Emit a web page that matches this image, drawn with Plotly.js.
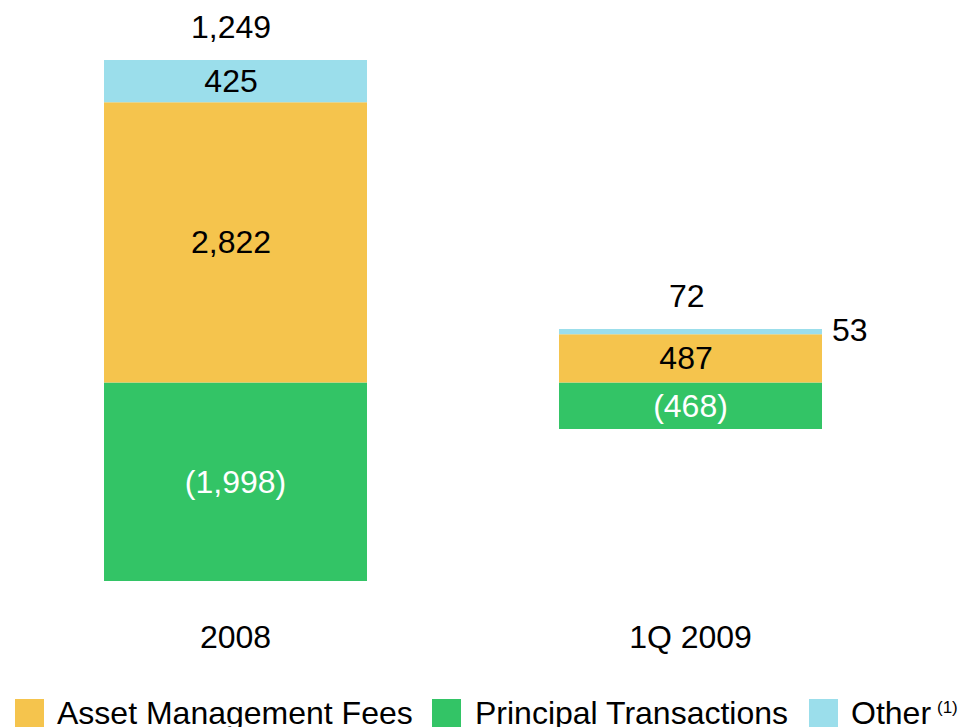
<!DOCTYPE html>
<html>
<head>
<meta charset="utf-8">
<script src="https://cdn.plot.ly/plotly-3.0.1.min.js"></script>
<style>
  html, body { margin: 0; padding: 0; background: #ffffff; }
  #chart { width: 964px; height: 727px; }
</style>
</head>
<body>
<div id="chart"></div>
<script>
// ---- data ----
const categories = ['2008', '1Q 2009'];
const assetManagementFees = [2822, 487];
const principalTransactions = [-1998, -468];
const other = [425, 53];
const seriesNames = ['Asset Management Fees', 'Principal Transactions', 'Other'];
const otherFootnote = '(1)';

// ---- styling ----
const FONT = '"Liberation Sans", Arial, Helvetica, sans-serif';
const FS = 32;
const LFS = 32;
const colors = { amf: '#F5C44D', pt: '#33C466', other: '#9BDEEB' };
const W = 964, H = 727;
const M = { l: 8, r: 46, t: 10, b: 127 };
const BARGAP = 0.422;

// accounting-style format: negatives in parentheses, positives padded
function fmt(v, pad) {
  const s = Math.abs(v).toLocaleString('en-US');
  if (v < 0) return '(' + s + ')';
  return pad ? s + '\u00a0' : s;
}
const plotW = W - M.l - M.r, plotH = H - M.t - M.b;
const px2x = px => (px - M.l) / plotW;
const px2y = py => (H - M.b - py) / plotH;

const barBase = {
  type: 'bar',
  x: categories,
  textposition: 'inside',
  insidetextanchor: 'middle',
  constraintext: 'none',
  cliponaxis: false,
  hoverinfo: 'skip',
  showlegend: false
};

const traces = [
  Object.assign({}, barBase, {
    name: seriesNames[1], y: principalTransactions,
    text: principalTransactions.map(v => fmt(v, true)),
    marker: { color: colors.pt, line: { width: 0 } },
    textfont: { family: FONT, size: FS, color: '#ffffff' }
  }),
  Object.assign({}, barBase, {
    name: seriesNames[0], y: assetManagementFees,
    text: assetManagementFees.map(v => fmt(v, true)),
    marker: { color: colors.amf, line: { width: 0 } },
    textfont: { family: FONT, size: FS, color: '#000000' }
  }),
  Object.assign({}, barBase, {
    name: seriesNames[2], y: other,
    text: other.map(v => (v >= 200 ? fmt(v, true) : '')),
    marker: { color: colors.other, line: { width: 0 } },
    textfont: { family: FONT, size: FS, color: '#000000' }
  })
];

const annotations = [];
// totals above bars (x given as category index)
categories.forEach((c, i) => {
  const posTop = assetManagementFees[i] + other[i];
  const net = assetManagementFees[i] + other[i] + principalTransactions[i];
  annotations.push({
    x: i, y: posTop, xref: 'x', yref: 'y',
    text: fmt(net, true), showarrow: false,
    xanchor: 'center', yanchor: 'bottom', yshift: 13,
    font: { family: FONT, size: FS, color: '#000000' }
  });
  // small segments labelled outside to the right
  if (other[i] < 200) {
    annotations.push({
      x: i + (1 - BARGAP) / 2, y: assetManagementFees[i] + other[i] / 2,
      xref: 'x', yref: 'y',
      text: fmt(other[i], false), showarrow: false,
      xanchor: 'left', yanchor: 'middle', xshift: 8, yshift: 2,
      font: { family: FONT, size: FS, color: '#000000' }
    });
  }
});

// custom legend (large swatches)
const legendItems = [
  { name: seriesNames[0], color: colors.amf, sx: 15, tx: 55 },
  { name: seriesNames[1], color: colors.pt, sx: 432, tx: 473 },
  { name: seriesNames[2], color: colors.other, sx: 809, tx: 849, note: otherFootnote, nx: 935 }
];
const shapes = [];
legendItems.forEach(it => {
  shapes.push({
    type: 'rect', xref: 'paper', yref: 'paper',
    x0: px2x(it.sx), x1: px2x(it.sx + 29),
    y0: px2y(699), y1: px2y(730),
    fillcolor: it.color, line: { width: 0 }, layer: 'above'
  });
  annotations.push({
    xref: 'paper', yref: 'paper',
    x: px2x(it.tx), y: px2y(713),
    text: it.name, showarrow: false,
    xanchor: 'left', yanchor: 'middle',
    font: { family: FONT, size: LFS, color: '#000000' }
  });
  if (it.note) {
    annotations.push({
      xref: 'paper', yref: 'paper',
      x: px2x(it.nx), y: px2y(707),
      text: it.note, showarrow: false,
      xanchor: 'left', yanchor: 'middle',
      font: { family: FONT, size: 17, color: '#000000' }
    });
  }
});

const layout = {
  width: W, height: H,
  margin: M,
  paper_bgcolor: '#ffffff',
  plot_bgcolor: '#ffffff',
  barmode: 'relative',
  bargap: BARGAP,
  showlegend: false,
  font: { family: FONT, size: FS, color: '#000000' },
  xaxis: {
    type: 'category',
    range: [-0.5, 1.5],
    showgrid: false, zeroline: false, showline: false,
    ticks: '',
    ticklabelstandoff: 15,
    tickfont: { family: FONT, size: FS, color: '#000000' },
    fixedrange: true
  },
  yaxis: {
    range: [-2190, 3751],
    visible: false,
    showgrid: false, zeroline: false,
    fixedrange: true
  },
  annotations: annotations,
  shapes: shapes
};

Plotly.newPlot('chart', traces, layout, { displayModeBar: false, staticPlot: true });
</script>
</body>
</html>
